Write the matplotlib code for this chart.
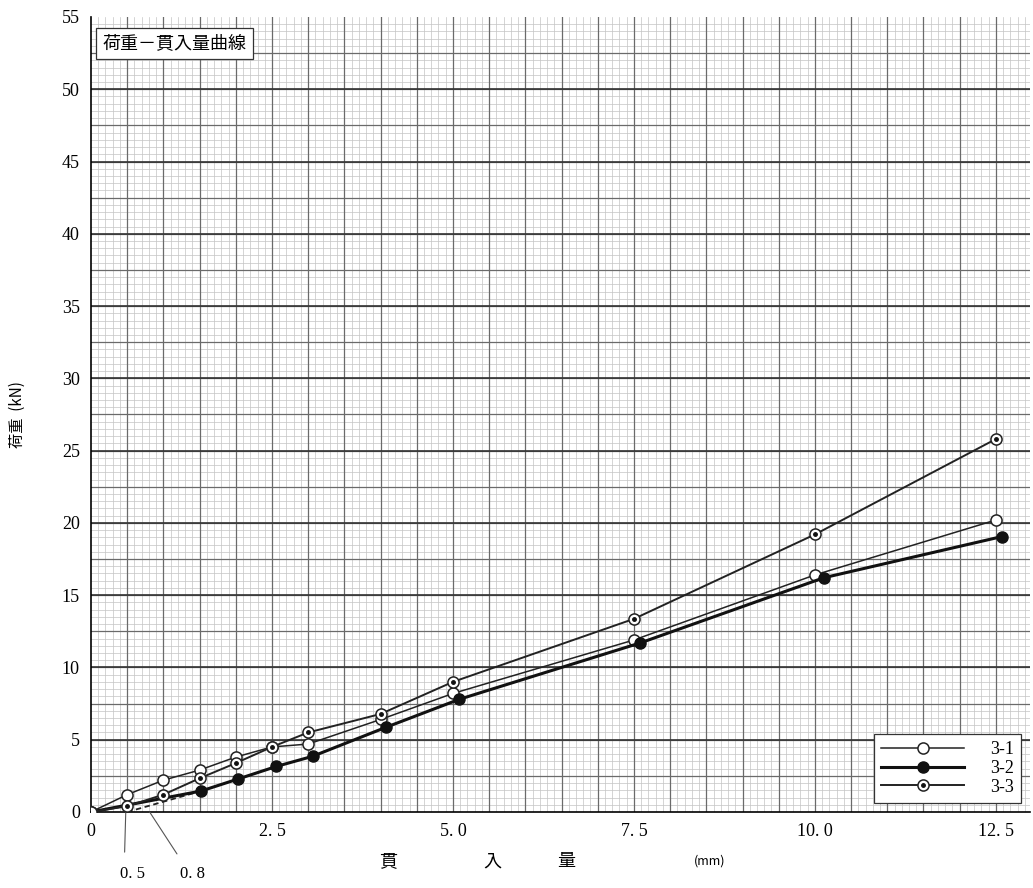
#!/usr/bin/env python3
"""Load-penetration curve (荷重－貫入量曲線) on graph-paper style axes."""

import matplotlib
matplotlib.use("Agg")
import matplotlib.pyplot as plt
import numpy as np
from matplotlib.legend_handler import HandlerTuple

plt.rcParams["font.family"] = ["Liberation Serif", "Noto Sans CJK JP", "DejaVu Sans"]

# penetration [mm] / load [kN]
x_31 = [0, 0.5, 1.0, 1.5, 2.0, 2.5, 3.0, 4.0, 5.0, 7.5, 10.0, 12.5]
y_31 = [0, 1.2, 2.2, 2.9, 3.8, 4.5, 4.7, 6.4, 8.2, 11.9, 16.4, 20.2]

x_32 = [0, 1.52, 2.03, 2.56, 3.06, 4.07, 5.09, 7.59, 10.12, 12.58]
y_32 = [0, 1.45, 2.28, 3.15, 3.85, 5.85, 7.8, 11.7, 16.2, 19.05]

x_33 = [0, 0.5, 1.0, 1.5, 2.0, 2.5, 3.0, 4.0, 5.0, 7.5, 10.0, 12.5]
y_33 = [0, 0.4, 1.2, 2.33, 3.38, 4.5, 5.5, 6.78, 9.0, 13.36, 19.2, 25.8]

# corrected origin line (dashed)
corr_x = [0.5, 1.52]
corr_y = [0, 1.45]

x_ticks = [0, 2.5, 5.0, 7.5, 10.0, 12.5]
x_tick_labels = ["0", "2. 5", "5. 0", "7. 5", "10. 0", "12. 5"]
y_ticks = list(range(0, 56, 5))

JP = ["Noto Sans CJK JP", "DejaVu Sans"]

fig = plt.figure(figsize=(10.33, 8.88), dpi=100)
ax = fig.add_axes([0.0881, 0.0856, 0.9089, 0.8953])
ax.set_xlim(0, 12.97)
ax.set_ylim(0, 55)

# graph paper
for v in np.arange(0.1, 13.0, 0.1):
    ax.axvline(v, color="#c4c4c4", lw=0.5, zorder=0)
for v in np.arange(0.5, 55, 0.5):
    ax.axhline(v, color="#c4c4c4", lw=0.5, zorder=0)
for v in np.arange(0.5, 13.0, 0.5):
    ax.axvline(v, color="#6a6a6a", lw=0.9, zorder=0.5)
for v in np.arange(2.5, 55, 2.5):
    ax.axhline(v, color="#6a6a6a", lw=0.9, zorder=0.5)
for v in np.arange(5, 55, 5):
    ax.axhline(v, color="#333333", lw=1.2, zorder=0.6)

# series
ax.plot(corr_x, corr_y, color="#222222", lw=1.3, ls=(0, (3, 2)), zorder=2)
l31, = ax.plot(x_31, y_31, color="#222222", lw=1.1, marker="o", ms=8,
               mfc="white", mec="#222222", mew=1.1, zorder=3)
l32, = ax.plot(x_32, y_32, color="#111111", lw=2.2, marker="o", ms=8,
               mfc="#111111", mec="#111111", zorder=4)
l33, = ax.plot(x_33, y_33, color="#222222", lw=1.4, marker="o", ms=8,
               mfc="white", mec="#222222", mew=1.1, zorder=5)
d33, = ax.plot(x_33[1:], y_33[1:], ls="none", marker="o", ms=2.5,
               mfc="#111111", mec="#111111", zorder=6)

ax.set_xticks(x_ticks)
ax.set_xticklabels(x_tick_labels)
ax.set_yticks(y_ticks)
ax.tick_params(length=0, labelsize=13, pad=8)
for s in ["top", "right"]:
    ax.spines[s].set_visible(False)
ax.spines["left"].set_linewidth(1.2)
ax.spines["bottom"].set_linewidth(1.2)

ax.set_ylabel("荷重  (kN)", family=JP, fontsize=11, labelpad=26)

# x axis label spread out
trans = ax.get_xaxis_transform()
for xv, s, fs in [(4.1, "貫", 13), (5.54, "入", 13), (6.57, "量", 13), (8.55, "(mm)", 9)]:
    ax.text(xv, -0.062, s, transform=trans, ha="center", va="center",
            family=JP, fontsize=fs)

# corrected origin annotations
ax.annotate("0. 5", xy=(0.48, 0), xytext=(0.58, -0.078), textcoords=trans,
            ha="center", va="center", fontsize=12, annotation_clip=False,
            arrowprops=dict(arrowstyle="-", color="#555555", lw=0.8,
                            shrinkA=8, shrinkB=0, relpos=(0.15, 1.0)))
ax.annotate("0. 8", xy=(0.81, 0), xytext=(1.4, -0.078), textcoords=trans,
            ha="center", va="center", fontsize=12, annotation_clip=False,
            arrowprops=dict(arrowstyle="-", color="#555555", lw=0.8,
                            shrinkA=8, shrinkB=0, relpos=(0.2, 1.0)))

ax.text(0.012, 0.978, "荷重－貫入量曲線", transform=ax.transAxes, ha="left",
        va="top", family=JP, fontsize=13,
        bbox=dict(facecolor="white", edgecolor="#333333", lw=0.9,
                  boxstyle="square,pad=0.35"), zorder=10)

leg = ax.legend([l31, l32, (l33, d33)], ["3-1", "3-2", "3-3"],
                handler_map={tuple: HandlerTuple(ndivide=1)},
                loc="lower right", bbox_to_anchor=(1.0, 0.0),
                handlelength=4.6, fontsize=13, frameon=True, fancybox=False,
                framealpha=1, edgecolor="#333333", borderpad=0.4,
                labelspacing=0.1, handletextpad=1.4)
leg.get_frame().set_linewidth(0.9)
leg.set_zorder(10)

fig.savefig("out.png", dpi=100)
